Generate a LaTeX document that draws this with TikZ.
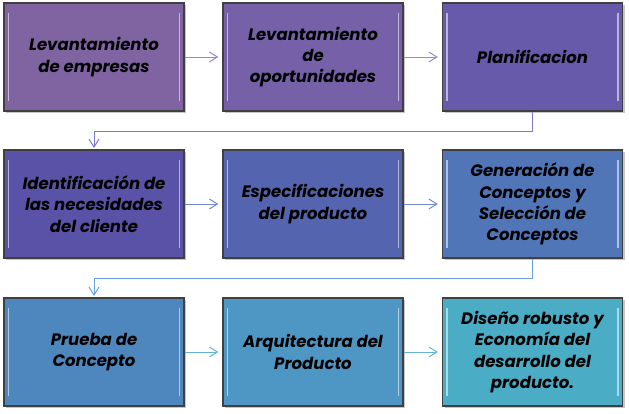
\documentclass[tikz,border=0pt]{standalone}
\usepackage{fontspec}
\setmainfont{Poppins}
\usetikzlibrary{arrows.meta,shadows}

\definecolor{cA}{RGB}{128,100,162}
\definecolor{cB}{RGB}{118,96,168}
\definecolor{cC}{RGB}{104,90,170}
\definecolor{cD}{RGB}{90,82,166}
\definecolor{cE}{RGB}{84,100,175}
\definecolor{cF}{RGB}{80,118,184}
\definecolor{cG}{RGB}{78,135,190}
\definecolor{cH}{RGB}{78,150,195}
\definecolor{cI}{RGB}{75,172,198}
\definecolor{arrA}{RGB}{155,134,200}
\definecolor{arrB}{RGB}{125,118,208}
\definecolor{arrC}{RGB}{110,138,210}
\definecolor{arrD}{RGB}{105,160,222}
\definecolor{arrE}{RGB}{100,180,216}

\begin{document}
\begin{tikzpicture}[x=0.75pt,y=0.75pt,yscale=-1,xscale=1,
  stage/.style={draw=black!75,line width=1pt,minimum width=135pt,minimum height=81pt,
    align=center,font=\bfseries\itshape\fontsize{12.4}{16}\selectfont,text=black,
    drop shadow={shadow xshift=1.5pt,shadow yshift=-1.5pt,opacity=0.45}},
  shine/.style={white,opacity=0.55,line width=1.2pt},
  flow/.style={line width=0.75pt,-{Straight Barb[length=6pt,width=7.5pt]},shorten >=3pt}]
\useasboundingbox (0,0) rectangle (629,414);

% first row
\node[stage,fill=cA] (lev) at (94,57) {Levantamiento\\de empresas};
\node[stage,fill=cB] (opo) at (313,57) {Levantamiento\\de\\oportunidades};
\node[stage,fill=cC] (plan) at (532.5,57) {Planificacion};

% second row
\node[stage,fill=cD] (iden) at (94,204) {Identificación de\\las necesidades\\del cliente};
\node[stage,fill=cE] (espe) at (313,204) {Especificaciones\\del producto};
\node[stage,fill=cF] (gene) at (532.5,204) {Generación de\\Conceptos y\\Selección de\\Conceptos};

% third row
\node[stage,fill=cG] (prue) at (94,352) {Prueba de\\Concepto};
\node[stage,fill=cH] (arqu) at (313,352) {Arquitectura del\\Producto};
\node[stage,fill=cI] (dise) at (532.5,352) {Diseño robusto y\\Economía del\\desarrollo del\\producto.};

% bevel highlights
\foreach \n in {lev,opo,plan,iden,espe,gene,prue,arqu,dise}{
  \draw[shine] ([xshift=4,yshift=8]\n.north west) -- ([xshift=4,yshift=-8]\n.south west);
  \draw[shine] ([xshift=-4,yshift=8]\n.north east) -- ([xshift=-4,yshift=-8]\n.south east);
}

% arrows
\draw[flow,arrA] (lev) -- (opo);
\draw[flow,arrA] (opo) -- (plan);
\draw[flow,arrB,shorten >=1pt] (plan.south) -- ++(0,20) -| (iden.north);
\draw[flow,arrC] (iden) -- (espe);
\draw[flow,arrC] (espe) -- (gene);
\draw[flow,arrD,shorten >=1pt] (gene.south) -- ++(0,20) -| (prue.north);
\draw[flow,arrE] (prue) -- (arqu);
\draw[flow,arrE] (arqu) -- (dise);

\end{tikzpicture}
\end{document}
